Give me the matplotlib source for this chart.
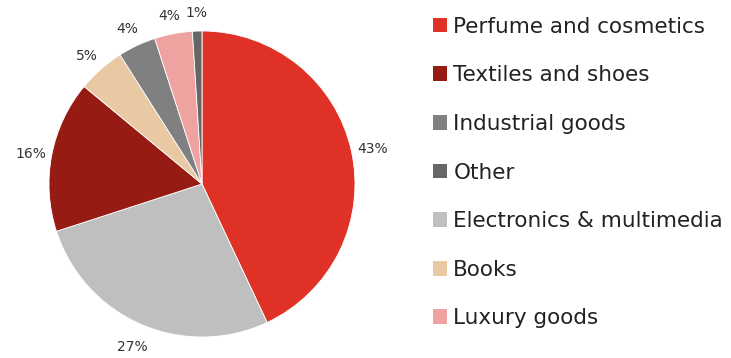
import matplotlib.pyplot as plt
from matplotlib.patches import Patch

# slices in clockwise order from the top
categories = ["Perfume and cosmetics", "Electronics & multimedia", "Textiles and shoes",
              "Books", "Industrial goods", "Luxury goods", "Other"]
shares = [43, 27, 16, 5, 4, 4, 1]
colors = ["#E03127", "#BFBFBF", "#961B13", "#E8C9A4", "#808080", "#EFA3A0", "#666666"]

legend_order = ["Perfume and cosmetics", "Textiles and shoes", "Industrial goods", "Other",
                "Electronics & multimedia", "Books", "Luxury goods"]

plt.rcParams["font.family"] = ["DejaVu Sans"]

W, H = 731, 358
fig = plt.figure(figsize=(W / 100, H / 100), dpi=100)

# pie centre / radius in pixels
cx, cy, r = 202, 184, 153
lim = 1.17
half = r * lim
ax = fig.add_axes([(cx - half) / W, (H - cy - half) / H, 2 * half / W, 2 * half / H])

wedges, texts, autotexts = ax.pie(
    shares, colors=colors, startangle=90, counterclock=False,
    autopct="%d%%", pctdistance=1.14,
    wedgeprops=dict(linewidth=0.6, edgecolor="white"),
    textprops=dict(fontsize=10, color="#333333"),
)
# reference labels sit a touch lower than the geometric position
for t in autotexts:
    x, y = t.get_position()
    t.set_position((x, y - 0.02))
ax.set_xlim(-lim, lim)
ax.set_ylim(-lim, lim)
ax.set_aspect("equal")
ax.axis("off")

color_of = dict(zip(categories, colors))
handles = [Patch(facecolor=color_of[c], edgecolor="none", label=c) for c in legend_order]
fig.legend(handles=handles, loc="upper left", bbox_to_anchor=(424 / W, 1 - 8 / H),
           frameon=False, fontsize=15.5, handlelength=0.68, handleheight=0.68,
           handletextpad=0.28, labelspacing=1.33, borderaxespad=0, labelcolor="#222222")

fig.savefig("out.png", dpi=100)
